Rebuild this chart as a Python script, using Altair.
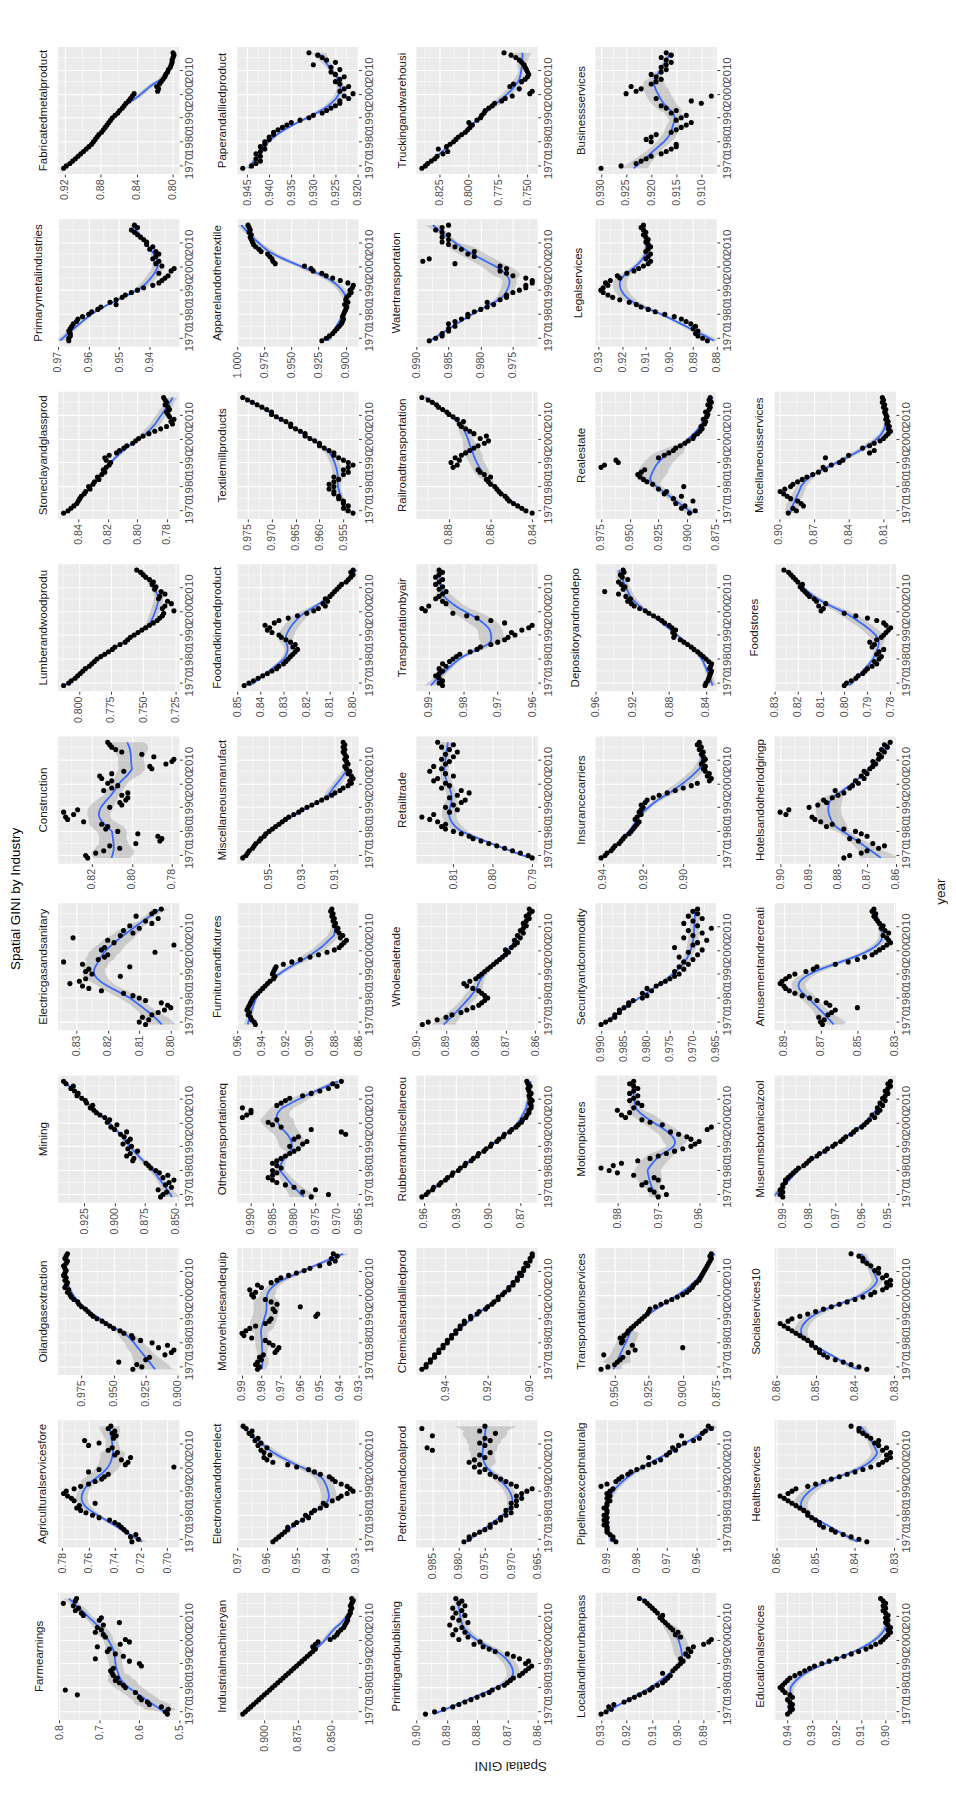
import altair as alt
import pandas as pd

YEARS = list(range(1969, 2018))
YEAR_TICKS = [1970, 1980, 1990, 2000, 2010]

FABRICATED = [0.921, 0.918, 0.914, 0.911, 0.908, 0.905, 0.902, 0.899, 0.896, 0.893,
              0.890, 0.888, 0.886, 0.884, 0.882, 0.879, 0.877, 0.875, 0.873, 0.871,
              0.869, 0.867, 0.864, 0.861, 0.859, 0.856, 0.854, 0.852, 0.849, 0.847,
              0.845, 0.843, 0.817, 0.816, 0.818, 0.815, 0.813, 0.811, 0.809, 0.808,
              0.806, 0.805, 0.803, 0.802, 0.801, 0.801, 0.800, 0.799, 0.800]
PRIMARYMETAL = [0.9665, 0.9665, 0.966, 0.966, 0.9665, 0.966, 0.9655, 0.965, 0.964, 0.9635,
                0.962, 0.960, 0.959, 0.957, 0.956, 0.951, 0.953, 0.951, 0.949, 0.948,
                0.946, 0.944, 0.942, 0.939, 0.937, 0.936, 0.935, 0.934, 0.937, 0.933,
                0.932, 0.936, 0.938, 0.937, 0.939, 0.938, 0.937, 0.938, 0.940, 0.939,
                0.941, 0.941, 0.942, 0.943, 0.944, 0.945, 0.946, 0.944, 0.945]
STONECLAY = [0.850, 0.847, 0.845, 0.843, 0.841, 0.840, 0.839, 0.838, 0.836, 0.835,
             0.832, 0.833, 0.830, 0.829, 0.826, 0.827, 0.824, 0.822, 0.823, 0.821,
             0.819, 0.818, 0.821, 0.822, 0.819, 0.814, 0.812, 0.809, 0.807, 0.803,
             0.801, 0.799, 0.796, 0.792, 0.788, 0.784, 0.780, 0.776, 0.777, 0.775,
             0.778, 0.779, 0.780, 0.778, 0.779, 0.781, 0.780, 0.781, 0.782]
LUMBER = [0.812, 0.808, 0.806, 0.803, 0.801, 0.799, 0.797, 0.795, 0.792, 0.790,
          0.788, 0.786, 0.783, 0.780, 0.777, 0.774, 0.772, 0.768, 0.764, 0.762,
          0.760, 0.757, 0.754, 0.751, 0.748, 0.745, 0.742, 0.739, 0.737, 0.735,
          0.734, 0.726, 0.735, 0.733, 0.728, 0.731, 0.738, 0.737, 0.733, 0.736,
          0.741, 0.740, 0.743, 0.742, 0.745, 0.748, 0.750, 0.752, 0.755]
CONSTRUCTION = [0.822, 0.823, 0.818, 0.814, 0.806, 0.811, 0.798, 0.786, 0.785, 0.787,
                0.797, 0.807, 0.813, 0.812, 0.815, 0.824, 0.832, 0.833, 0.829, 0.834,
                0.827, 0.811, 0.805, 0.806, 0.803, 0.802, 0.805, 0.802, 0.814, 0.810,
                0.807, 0.812, 0.810, 0.815, 0.816, 0.810, 0.804, 0.790, 0.791, 0.783,
                0.780, 0.779, 0.789, 0.795, 0.805, 0.808, 0.810, 0.811, 0.812]
ELECTRICGAS = [0.808, 0.810, 0.807, 0.809, 0.806, 0.804, 0.802, 0.800, 0.801, 0.803,
               0.808, 0.810, 0.812, 0.815, 0.822, 0.826, 0.828, 0.832, 0.829, 0.827,
               0.816, 0.825, 0.827, 0.826, 0.813, 0.828, 0.834, 0.823, 0.821, 0.820,
               0.805, 0.822, 0.821, 0.799, 0.818, 0.820, 0.831, 0.816, 0.812, 0.815,
               0.810, 0.813, 0.806, 0.808, 0.804, 0.811, 0.806, 0.805, 0.803]
MINING = [0.862, 0.860, 0.857, 0.864, 0.853, 0.858, 0.855, 0.851, 0.860, 0.856,
          0.863, 0.866, 0.870, 0.872, 0.874, 0.885, 0.884, 0.890, 0.887, 0.881,
          0.889, 0.886, 0.893, 0.889, 0.887, 0.892, 0.895, 0.890, 0.900, 0.903,
          0.898, 0.906, 0.904, 0.908, 0.912, 0.915, 0.917, 0.920, 0.918, 0.923,
          0.924, 0.927, 0.931, 0.930, 0.933, 0.936, 0.934, 0.940, 0.942]
OILGAS = [0.935, 0.928, 0.932, 0.946, 0.925, 0.922, 0.910, 0.905, 0.903, 0.915,
          0.908, 0.920, 0.929, 0.935, 0.936, 0.942, 0.945, 0.950, 0.953, 0.956,
          0.959, 0.963, 0.966, 0.968, 0.970, 0.972, 0.975, 0.977, 0.978, 0.981,
          0.983, 0.984, 0.986, 0.985, 0.988, 0.987, 0.986, 0.988, 0.987, 0.989,
          0.988, 0.987, 0.988, 0.989, 0.987, 0.986, 0.988, 0.987, 0.986]
AGRICULTURAL = [0.727, 0.722, 0.728, 0.724, 0.731, 0.733, 0.735, 0.737, 0.740, 0.744,
                0.752, 0.757, 0.762, 0.766, 0.769, 0.767, 0.755, 0.771, 0.773, 0.776,
                0.779, 0.777, 0.771, 0.766, 0.760, 0.755, 0.750, 0.748, 0.745, 0.760,
                0.752, 0.695, 0.732, 0.730, 0.735, 0.728, 0.740, 0.738, 0.745, 0.742,
                0.760, 0.752, 0.763, 0.741, 0.739, 0.742, 0.740, 0.745, 0.743]
FARM = [0.530, 0.535, 0.528, 0.545, 0.575, 0.580, 0.595, 0.600, 0.755, 0.610,
        0.785, 0.635, 0.640, 0.650, 0.660, 0.655, 0.665, 0.668, 0.672, 0.665,
        0.595, 0.600, 0.625, 0.710, 0.640, 0.660, 0.680, 0.675, 0.705, 0.648,
        0.625, 0.635, 0.685, 0.690, 0.710, 0.695, 0.705, 0.690, 0.650, 0.700,
        0.695, 0.740, 0.745, 0.760, 0.752, 0.765, 0.790, 0.760, 0.757]
PAPER = [0.946, 0.944, 0.943, 0.942, 0.943, 0.942, 0.943, 0.942, 0.941, 0.942,
         0.941, 0.941, 0.940, 0.940, 0.939, 0.939, 0.938, 0.937, 0.936, 0.935,
         0.933, 0.931, 0.930, 0.928, 0.927, 0.926, 0.925, 0.924, 0.924, 0.922,
         0.923, 0.921, 0.924, 0.923, 0.922, 0.924, 0.925, 0.924, 0.923, 0.925,
         0.926, 0.924, 0.926, 0.930, 0.925, 0.927, 0.928, 0.929, 0.931]
APPAREL = [0.922, 0.918, 0.915, 0.912, 0.910, 0.908, 0.906, 0.904, 0.903, 0.902,
           0.903, 0.902, 0.901, 0.900, 0.899, 0.901, 0.898, 0.900, 0.899, 0.897,
           0.895, 0.896, 0.894, 0.893, 0.898, 0.905, 0.912, 0.918, 0.922, 0.930,
           0.932, 0.938, 0.965, 0.967, 0.968, 0.970, 0.972, 0.978, 0.980, 0.983,
           0.985, 0.986, 0.987, 0.988, 0.987, 0.989, 0.988, 0.989, 0.990]
TEXTILE = [0.953, 0.954, 0.955, 0.954, 0.955, 0.955, 0.956, 0.956, 0.957, 0.957,
           0.958, 0.957, 0.958, 0.957, 0.956, 0.957, 0.955, 0.954, 0.955, 0.954,
           0.953, 0.954, 0.955, 0.956, 0.957, 0.957, 0.958, 0.959, 0.960, 0.960,
           0.961, 0.962, 0.963, 0.963, 0.964, 0.965, 0.966, 0.966, 0.967, 0.968,
           0.969, 0.970, 0.970, 0.971, 0.972, 0.973, 0.974, 0.975, 0.976]
FOOD = [0.847, 0.845, 0.843, 0.841, 0.839, 0.837, 0.835, 0.833, 0.832, 0.830,
        0.829, 0.828, 0.827, 0.826, 0.825, 0.824, 0.826, 0.825, 0.827, 0.829,
        0.831, 0.832, 0.835, 0.837, 0.836, 0.838, 0.834, 0.832, 0.828, 0.824,
        0.820, 0.817, 0.815, 0.812, 0.813, 0.811, 0.812, 0.810, 0.809, 0.808,
        0.807, 0.806, 0.805, 0.803, 0.802, 0.801, 0.800, 0.801, 0.800]
MISCMANUF = [0.966, 0.964, 0.963, 0.962, 0.960, 0.959, 0.958, 0.956, 0.955, 0.953,
             0.952, 0.950, 0.948, 0.946, 0.944, 0.942, 0.940, 0.938, 0.935, 0.932,
             0.930, 0.927, 0.924, 0.921, 0.918, 0.915, 0.912, 0.910, 0.907, 0.905,
             0.902, 0.900, 0.901, 0.899, 0.900, 0.902, 0.901, 0.903, 0.904, 0.902,
             0.903, 0.904, 0.903, 0.904, 0.905, 0.904, 0.905, 0.904, 0.905]
FURNITURE = [0.945, 0.946, 0.948, 0.949, 0.951, 0.950, 0.952, 0.951, 0.950, 0.949,
             0.948, 0.947, 0.945, 0.943, 0.941, 0.939, 0.937, 0.935, 0.933, 0.930,
             0.929, 0.931, 0.930, 0.929, 0.928, 0.922, 0.915, 0.908, 0.900, 0.893,
             0.886, 0.880, 0.876, 0.874, 0.872, 0.870, 0.875, 0.873, 0.876, 0.878,
             0.877, 0.880, 0.879, 0.881, 0.880, 0.882, 0.881, 0.883, 0.882]
OTHERTRANSPORT = [0.976, 0.972, 0.978, 0.975, 0.980, 0.982, 0.984, 0.985, 0.986, 0.985,
                  0.984, 0.985, 0.983, 0.984, 0.985, 0.984, 0.983, 0.982, 0.981, 0.980,
                  0.979, 0.981, 0.978, 0.977, 0.980, 0.979, 0.968, 0.969, 0.976, 0.983,
                  0.985, 0.986, 0.984, 0.992, 0.991, 0.990, 0.990, 0.992, 0.984, 0.983,
                  0.982, 0.981, 0.978, 0.976, 0.974, 0.972, 0.970, 0.971, 0.969]
MOTORVEHICLES = [0.982, 0.981, 0.983, 0.982, 0.980, 0.981, 0.979, 0.973, 0.972, 0.971,
                 0.974, 0.976, 0.978, 0.985, 0.989, 0.990, 0.988, 0.986, 0.983, 0.978,
                 0.976, 0.975, 0.952, 0.951, 0.973, 0.974, 0.960, 0.972, 0.975, 0.978,
                 0.984, 0.985, 0.983, 0.986, 0.980, 0.982, 0.975, 0.972, 0.970, 0.966,
                 0.962, 0.958, 0.955, 0.950, 0.945, 0.942, 0.944, 0.941, 0.943]
ELECTRONIC = [0.958, 0.957, 0.956, 0.955, 0.954, 0.953, 0.953, 0.951, 0.950, 0.948,
              0.946, 0.947, 0.945, 0.944, 0.942, 0.940, 0.941, 0.938, 0.936, 0.935,
              0.933, 0.931, 0.932, 0.933, 0.935, 0.937, 0.938, 0.939, 0.942, 0.944,
              0.946, 0.950, 0.953, 0.958, 0.960, 0.961, 0.959, 0.961, 0.962, 0.960,
              0.963, 0.962, 0.964, 0.963, 0.965, 0.966, 0.965, 0.967, 0.968]
INDMACHINERY = [0.916, 0.914, 0.912, 0.910, 0.908, 0.906, 0.904, 0.902, 0.900, 0.898,
                0.896, 0.894, 0.892, 0.890, 0.888, 0.886, 0.884, 0.882, 0.880, 0.878,
                0.876, 0.874, 0.872, 0.870, 0.868, 0.866, 0.864, 0.862, 0.864, 0.862,
                0.860, 0.851, 0.848, 0.846, 0.845, 0.843, 0.841, 0.840, 0.839, 0.838,
                0.838, 0.837, 0.836, 0.836, 0.835, 0.836, 0.835, 0.834, 0.835]
TRUCKING = [0.840, 0.837, 0.835, 0.832, 0.829, 0.827, 0.822, 0.818, 0.826, 0.819,
            0.816, 0.813, 0.811, 0.809, 0.806, 0.803, 0.801, 0.799, 0.797, 0.800,
            0.793, 0.790, 0.789, 0.787, 0.786, 0.783, 0.780, 0.778, 0.772, 0.769,
            0.763, 0.748, 0.746, 0.757, 0.765, 0.762, 0.755, 0.752, 0.750, 0.749,
            0.750, 0.751, 0.752, 0.753, 0.755, 0.757, 0.760, 0.764, 0.770]
WATER = [0.988, 0.987, 0.986, 0.986, 0.985, 0.985, 0.984, 0.985, 0.984, 0.983,
         0.982, 0.982, 0.981, 0.980, 0.979, 0.978, 0.979, 0.977, 0.976, 0.976,
         0.975, 0.974, 0.973, 0.973, 0.972, 0.972, 0.973, 0.975, 0.976, 0.977,
         0.976, 0.977, 0.984, 0.989, 0.988, 0.981, 0.982, 0.981, 0.983, 0.984,
         0.985, 0.986, 0.985, 0.986, 0.985, 0.986, 0.987, 0.986, 0.985]
RAILROAD = [0.840, 0.843, 0.845, 0.847, 0.849, 0.851, 0.852, 0.853, 0.855, 0.856,
            0.857, 0.858, 0.860, 0.861, 0.862, 0.860, 0.863, 0.865, 0.866, 0.878,
            0.876, 0.879, 0.875, 0.877, 0.874, 0.872, 0.870, 0.868, 0.866, 0.863,
            0.861, 0.865, 0.862, 0.868, 0.870, 0.872, 0.874, 0.875, 0.873, 0.876,
            0.878, 0.880, 0.881, 0.883, 0.885, 0.886, 0.888, 0.890, 0.893]
TRANSAIR = [0.986, 0.987, 0.986, 0.987, 0.988, 0.987, 0.986, 0.987, 0.985, 0.986,
            0.984, 0.983, 0.982, 0.981, 0.978, 0.976, 0.975, 0.972, 0.970, 0.968,
            0.967, 0.965, 0.966, 0.963, 0.961, 0.960, 0.968, 0.972, 0.976, 0.979,
            0.983, 0.991, 0.992, 0.990, 0.985, 0.986, 0.988, 0.987, 0.986, 0.985,
            0.987, 0.986, 0.988, 0.987, 0.986, 0.988, 0.987, 0.986, 0.987]
RETAIL = [0.790, 0.791, 0.793, 0.795, 0.797, 0.799, 0.801, 0.803, 0.805, 0.806,
          0.808, 0.810, 0.812, 0.813, 0.812, 0.814, 0.816, 0.818, 0.815, 0.811,
          0.809, 0.812, 0.810, 0.808, 0.807, 0.811, 0.809, 0.806, 0.808, 0.813,
          0.811, 0.812, 0.815, 0.814, 0.810, 0.812, 0.816, 0.813, 0.815, 0.812,
          0.811, 0.813, 0.810, 0.812, 0.809, 0.811, 0.813, 0.810, 0.814]
WHOLESALE = [0.898, 0.896, 0.893, 0.890, 0.888, 0.885, 0.883, 0.881, 0.879, 0.878,
             0.877, 0.876, 0.877, 0.878, 0.879, 0.881, 0.883, 0.884, 0.882, 0.880,
             0.879, 0.878, 0.877, 0.876, 0.875, 0.874, 0.873, 0.872, 0.871, 0.870,
             0.869, 0.870, 0.868, 0.867, 0.866, 0.867, 0.865, 0.866, 0.864, 0.865,
             0.864, 0.863, 0.864, 0.863, 0.862, 0.863, 0.862, 0.861, 0.862]
RUBBER = [0.962, 0.958, 0.956, 0.952, 0.951, 0.946, 0.944, 0.940, 0.938, 0.934,
          0.933, 0.928, 0.926, 0.922, 0.921, 0.916, 0.914, 0.910, 0.909, 0.904,
          0.902, 0.898, 0.897, 0.892, 0.890, 0.886, 0.885, 0.880, 0.878, 0.874,
          0.872, 0.869, 0.868, 0.865, 0.864, 0.862, 0.862, 0.860, 0.860, 0.861,
          0.859, 0.861, 0.862, 0.860, 0.862, 0.863, 0.861, 0.863, 0.864]
CHEMICALS = [0.951, 0.949, 0.949, 0.947, 0.947, 0.945, 0.945, 0.943, 0.943, 0.941,
             0.941, 0.939, 0.939, 0.937, 0.937, 0.935, 0.935, 0.933, 0.933, 0.931,
             0.931, 0.928, 0.928, 0.925, 0.924, 0.921, 0.920, 0.918, 0.917, 0.915,
             0.915, 0.913, 0.912, 0.910, 0.910, 0.908, 0.908, 0.906, 0.906, 0.904,
             0.905, 0.903, 0.903, 0.901, 0.902, 0.900, 0.900, 0.899, 0.899]
PETROLEUM = [0.979, 0.978, 0.978, 0.977, 0.976, 0.975, 0.974, 0.974, 0.973, 0.972,
             0.972, 0.971, 0.970, 0.971, 0.970, 0.969, 0.970, 0.969, 0.968, 0.969,
             0.968, 0.967, 0.966, 0.969, 0.970, 0.971, 0.972, 0.973, 0.974, 0.976,
             0.975, 0.977, 0.976, 0.978, 0.977, 0.975, 0.976, 0.974, 0.985, 0.986,
             0.975, 0.976, 0.974, 0.975, 0.985, 0.973, 0.976, 0.987, 0.975]
PRINTING = [0.897, 0.894, 0.891, 0.888, 0.886, 0.884, 0.882, 0.880, 0.878, 0.876,
            0.875, 0.873, 0.871, 0.870, 0.869, 0.868, 0.866, 0.865, 0.864, 0.863,
            0.862, 0.864, 0.863, 0.866, 0.868, 0.870, 0.874, 0.876, 0.878, 0.881,
            0.879, 0.886, 0.883, 0.888, 0.884, 0.887, 0.885, 0.889, 0.883, 0.886,
            0.888, 0.884, 0.887, 0.885, 0.888, 0.884, 0.886, 0.885, 0.887]
BUSINESS = [0.930, 0.926, 0.923, 0.922, 0.921, 0.920, 0.918, 0.917, 0.916, 0.915,
            0.915, 0.920, 0.921, 0.920, 0.919, 0.916, 0.915, 0.914, 0.913, 0.912,
            0.915, 0.914, 0.913, 0.916, 0.915, 0.917, 0.918, 0.910, 0.912, 0.919,
            0.908, 0.925, 0.923, 0.922, 0.924, 0.920, 0.919, 0.918, 0.919, 0.920,
            0.918, 0.917, 0.918, 0.917, 0.916, 0.917, 0.918, 0.916, 0.917]
LEGAL = [0.884, 0.886, 0.888, 0.889, 0.888, 0.890, 0.889, 0.891, 0.893, 0.895,
         0.898, 0.902, 0.906, 0.909, 0.912, 0.914, 0.917, 0.921, 0.924, 0.926,
         0.928, 0.929, 0.928, 0.926, 0.927, 0.925, 0.921, 0.922, 0.918, 0.915,
         0.913, 0.911, 0.909, 0.908, 0.910, 0.909, 0.908, 0.910, 0.909, 0.908,
         0.909, 0.910, 0.909, 0.910, 0.911, 0.910, 0.911, 0.912, 0.911]
REALESTATE = [0.898, 0.893, 0.905, 0.902, 0.910, 0.895, 0.912, 0.905, 0.920, 0.918,
              0.925, 0.903, 0.930, 0.935, 0.938, 0.941, 0.943, 0.940, 0.937, 0.975,
              0.972, 0.960, 0.962, 0.925, 0.920, 0.916, 0.912, 0.910, 0.906, 0.902,
              0.899, 0.895, 0.894, 0.891, 0.889, 0.887, 0.888, 0.885, 0.884, 0.886,
              0.883, 0.882, 0.884, 0.881, 0.880, 0.882, 0.879, 0.881, 0.880]
DEPOSITORY = [0.841, 0.840, 0.838, 0.837, 0.836, 0.835, 0.834, 0.836, 0.835, 0.834,
              0.837, 0.840, 0.843, 0.846, 0.849, 0.853, 0.856, 0.860, 0.864, 0.868,
              0.875, 0.874, 0.876, 0.873, 0.877, 0.880, 0.885, 0.888, 0.892, 0.897,
              0.902, 0.906, 0.912, 0.918, 0.921, 0.925, 0.922, 0.927, 0.935, 0.950,
              0.930, 0.928, 0.932, 0.935, 0.925, 0.931, 0.933, 0.929, 0.930]
INSURANCE = [0.941, 0.939, 0.938, 0.936, 0.935, 0.934, 0.932, 0.931, 0.930, 0.929,
             0.927, 0.926, 0.925, 0.924, 0.923, 0.922, 0.924, 0.923, 0.921, 0.922,
             0.921, 0.920, 0.921, 0.919, 0.918, 0.915, 0.912, 0.908, 0.904, 0.900,
             0.896, 0.893, 0.887, 0.886, 0.888, 0.887, 0.889, 0.890, 0.889, 0.891,
             0.890, 0.889, 0.890, 0.891, 0.890, 0.892, 0.891, 0.893, 0.892]
SECURITY = [0.990, 0.989, 0.988, 0.987, 0.987, 0.986, 0.986, 0.985, 0.984, 0.984,
            0.983, 0.981, 0.980, 0.981, 0.979, 0.980, 0.978, 0.977, 0.976, 0.975,
            0.974, 0.973, 0.974, 0.972, 0.973, 0.971, 0.972, 0.970, 0.973, 0.969,
            0.971, 0.968, 0.974, 0.970, 0.969, 0.967, 0.972, 0.970, 0.968, 0.971,
            0.966, 0.969, 0.972, 0.970, 0.968, 0.971, 0.969, 0.970, 0.969]
MOTION = [0.970, 0.968, 0.971, 0.972, 0.969, 0.974, 0.973, 0.970, 0.971, 0.976,
          0.980, 0.982, 0.984, 0.981, 0.979, 0.975, 0.972, 0.970, 0.968, 0.966,
          0.964, 0.962, 0.961, 0.960, 0.962, 0.963, 0.965, 0.967, 0.958, 0.957,
          0.969, 0.972, 0.974, 0.978, 0.979, 0.977, 0.980, 0.976, 0.974, 0.975,
          0.977, 0.976, 0.975, 0.977, 0.976, 0.975, 0.976, 0.977, 0.976]
TRANSSERV = [0.960, 0.955, 0.950, 0.948, 0.946, 0.944, 0.958, 0.940, 0.935, 0.900,
             0.937, 0.945, 0.944, 0.946, 0.943, 0.941, 0.940, 0.938, 0.936, 0.934,
             0.932, 0.930, 0.928, 0.926, 0.925, 0.924, 0.920, 0.916, 0.912, 0.908,
             0.904, 0.900, 0.897, 0.895, 0.893, 0.892, 0.890, 0.888, 0.887, 0.886,
             0.885, 0.884, 0.883, 0.882, 0.881, 0.880, 0.879, 0.880, 0.879]
PIPELINES = [0.987, 0.988, 0.988, 0.989, 0.990, 0.990, 0.990, 0.991, 0.990, 0.991,
             0.990, 0.991, 0.990, 0.990, 0.991, 0.990, 0.990, 0.989, 0.990, 0.989,
             0.990, 0.989, 0.988, 0.992, 0.990, 0.987, 0.986, 0.985, 0.983, 0.982,
             0.980, 0.978, 0.976, 0.974, 0.972, 0.976, 0.970, 0.969, 0.967, 0.968,
             0.966, 0.964, 0.961, 0.959, 0.965, 0.958, 0.957, 0.955, 0.956]
LOCALTRANSIT = [0.930, 0.928, 0.926, 0.927, 0.925, 0.921, 0.919, 0.917, 0.915, 0.913,
                0.911, 0.910, 0.908, 0.906, 0.905, 0.904, 0.903, 0.906, 0.902, 0.901,
                0.900, 0.899, 0.898, 0.899, 0.896, 0.897, 0.895, 0.896, 0.894, 0.890,
                0.888, 0.887, 0.899, 0.901, 0.900, 0.902, 0.903, 0.904, 0.905, 0.906,
                0.907, 0.906, 0.908, 0.909, 0.910, 0.911, 0.912, 0.913, 0.915]
MISCSERV = [0.892, 0.885, 0.888, 0.879, 0.881, 0.884, 0.890, 0.893, 0.896, 0.899,
            0.895, 0.890, 0.888, 0.884, 0.880, 0.876, 0.871, 0.866, 0.860, 0.862,
            0.855, 0.848, 0.845, 0.860, 0.840, 0.822, 0.818, 0.828, 0.822, 0.818,
            0.813, 0.810, 0.808, 0.806, 0.804, 0.806, 0.805, 0.807, 0.806, 0.808,
            0.807, 0.808, 0.809, 0.808, 0.810, 0.809, 0.811, 0.810, 0.811]
FOODSTORES = [0.800, 0.799, 0.797, 0.795, 0.794, 0.792, 0.791, 0.790, 0.788, 0.786,
              0.787, 0.785, 0.784, 0.786, 0.785, 0.783, 0.788, 0.787, 0.789, 0.786,
              0.784, 0.783, 0.782, 0.781, 0.780, 0.782, 0.783, 0.786, 0.790, 0.795,
              0.800, 0.810, 0.809, 0.811, 0.808, 0.812, 0.813, 0.815, 0.816, 0.817,
              0.818, 0.819, 0.818, 0.820, 0.821, 0.822, 0.823, 0.824, 0.826]
HOTELS = [0.878, 0.876, 0.872, 0.870, 0.866, 0.864, 0.868, 0.873, 0.876, 0.870,
          0.872, 0.874, 0.878, 0.884, 0.882, 0.886, 0.888, 0.889, 0.898, 0.900,
          0.897, 0.890, 0.887, 0.884, 0.885, 0.882, 0.880, 0.878, 0.881, 0.876,
          0.875, 0.873, 0.874, 0.871, 0.872, 0.870, 0.871, 0.869, 0.868, 0.867,
          0.868, 0.866, 0.865, 0.866, 0.864, 0.865, 0.863, 0.864, 0.862]
AMUSEMENT = [0.869, 0.870, 0.868, 0.871, 0.866, 0.864, 0.862, 0.850, 0.865, 0.867,
             0.872, 0.876, 0.880, 0.884, 0.887, 0.889, 0.890, 0.892, 0.891, 0.889,
             0.887, 0.884, 0.878, 0.874, 0.872, 0.862, 0.855, 0.850, 0.846, 0.842,
             0.840, 0.838, 0.836, 0.834, 0.832, 0.833, 0.834, 0.836, 0.833, 0.835,
             0.837, 0.836, 0.838, 0.839, 0.840, 0.841, 0.840, 0.842, 0.841]
MUSEUMS = [0.990, 0.991, 0.990, 0.991, 0.990, 0.990, 0.989, 0.989, 0.988, 0.987,
           0.986, 0.985, 0.984, 0.982, 0.981, 0.980, 0.979, 0.977, 0.976, 0.974,
           0.973, 0.971, 0.970, 0.968, 0.967, 0.966, 0.964, 0.963, 0.962, 0.960,
           0.959, 0.958, 0.957, 0.955, 0.956, 0.954, 0.953, 0.954, 0.952, 0.953,
           0.951, 0.952, 0.951, 0.950, 0.951, 0.950, 0.949, 0.950, 0.949]
SOCIAL = [0.837, 0.839, 0.841, 0.843, 0.845, 0.847, 0.848, 0.849, 0.849, 0.850,
          0.851, 0.851, 0.852, 0.853, 0.854, 0.855, 0.856, 0.857, 0.858, 0.859,
          0.857, 0.856, 0.854, 0.852, 0.850, 0.848, 0.846, 0.844, 0.842, 0.840,
          0.838, 0.836, 0.835, 0.833, 0.832, 0.831, 0.832, 0.831, 0.833, 0.832,
          0.834, 0.835, 0.834, 0.836, 0.837, 0.838, 0.838, 0.839, 0.841]
HEALTH = [0.837, 0.839, 0.841, 0.843, 0.845, 0.846, 0.848, 0.849, 0.849, 0.850,
          0.851, 0.852, 0.852, 0.853, 0.854, 0.855, 0.856, 0.857, 0.858, 0.859,
          0.857, 0.856, 0.855, 0.852, 0.850, 0.848, 0.846, 0.844, 0.842, 0.840,
          0.838, 0.836, 0.834, 0.833, 0.832, 0.831, 0.832, 0.831, 0.833, 0.832,
          0.834, 0.835, 0.834, 0.836, 0.837, 0.838, 0.839, 0.839, 0.841]
EDUCATIONAL = [0.940, 0.939, 0.938, 0.939, 0.938, 0.939, 0.940, 0.938, 0.939, 0.941,
               0.942, 0.943, 0.942, 0.941, 0.940, 0.939, 0.937, 0.935, 0.933, 0.931,
               0.929, 0.926, 0.923, 0.920, 0.917, 0.914, 0.911, 0.908, 0.906, 0.904,
               0.902, 0.901, 0.900, 0.899, 0.898, 0.899, 0.898, 0.899, 0.900, 0.899,
               0.900, 0.899, 0.900, 0.901, 0.900, 0.901, 0.900, 0.901, 0.902]

# (strip label, values, tick labels) in reading order of the 5-column grid; None = empty cell
PANELS = [
    ("Fabricatedmetalproduct", FABRICATED, ["0.80", "0.84", "0.88", "0.92"]),
    ("Paperandalliedproduct", PAPER, ["0.920", "0.925", "0.930", "0.935", "0.940", "0.945"]),
    ("Truckingandwarehousi", TRUCKING, ["0.750", "0.775", "0.800", "0.825"]),
    ("Businessservices", BUSINESS, ["0.910", "0.915", "0.920", "0.925", "0.930"]),
    None,
    ("Primarymetalindustries", PRIMARYMETAL, ["0.94", "0.95", "0.96", "0.97"]),
    ("Apparelandothertextile", APPAREL, ["0.900", "0.925", "0.950", "0.975", "1.000"]),
    ("Watertransportation", WATER, ["0.975", "0.980", "0.985", "0.990"]),
    ("Legalservices", LEGAL, ["0.88", "0.89", "0.90", "0.91", "0.92", "0.93"]),
    None,
    ("Stoneclayandglassprod", STONECLAY, ["0.78", "0.80", "0.82", "0.84"]),
    ("Textilemillproducts", TEXTILE, ["0.955", "0.960", "0.965", "0.970", "0.975"]),
    ("Railroadtransportation", RAILROAD, ["0.84", "0.86", "0.88"]),
    ("Realestate", REALESTATE, ["0.875", "0.900", "0.925", "0.950", "0.975"]),
    ("Miscellaneousservices", MISCSERV, ["0.81", "0.84", "0.87", "0.90"]),
    ("Lumberandwoodprodu", LUMBER, ["0.725", "0.750", "0.775", "0.800"]),
    ("Foodandkindredproduct", FOOD, ["0.80", "0.81", "0.82", "0.83", "0.84", "0.85"]),
    ("Transportationbyair", TRANSAIR, ["0.96", "0.97", "0.98", "0.99"]),
    ("Depositoryandnondepo", DEPOSITORY, ["0.84", "0.88", "0.92", "0.96"]),
    ("Foodstores", FOODSTORES, ["0.78", "0.79", "0.80", "0.81", "0.82", "0.83"]),
    ("Construction", CONSTRUCTION, ["0.78", "0.80", "0.82"]),
    ("Miscellaneousmanufact", MISCMANUF, ["0.91", "0.93", "0.95"]),
    ("Retailtrade", RETAIL, ["0.79", "0.80", "0.81"]),
    ("Insurancecarriers", INSURANCE, ["0.90", "0.92", "0.94"]),
    ("Hotelsandotherlodgingp", HOTELS, ["0.86", "0.87", "0.88", "0.89", "0.90"]),
    ("Electricgasandsanitary", ELECTRICGAS, ["0.80", "0.81", "0.82", "0.83"]),
    ("Furnitureandfixtures", FURNITURE, ["0.86", "0.88", "0.90", "0.92", "0.94", "0.96"]),
    ("Wholesaletrade", WHOLESALE, ["0.86", "0.87", "0.88", "0.89", "0.90"]),
    ("Securityandcommodity", SECURITY, ["0.965", "0.970", "0.975", "0.980", "0.985", "0.990"]),
    ("Amusementandrecreati", AMUSEMENT, ["0.83", "0.85", "0.87", "0.89"]),
    ("Mining", MINING, ["0.850", "0.875", "0.900", "0.925"]),
    ("Othertransportationeq", OTHERTRANSPORT, ["0.965", "0.970", "0.975", "0.980", "0.985", "0.990"]),
    ("Rubberandmiscellaneou", RUBBER, ["0.87", "0.90", "0.93", "0.96"]),
    ("Motionpictures", MOTION, ["0.96", "0.97", "0.98"]),
    ("Museumsbotanicalzool", MUSEUMS, ["0.95", "0.96", "0.97", "0.98", "0.99"]),
    ("Oilandgasextraction", OILGAS, ["0.900", "0.925", "0.950", "0.975"]),
    ("Motorvehiclesandequip", MOTORVEHICLES, ["0.93", "0.94", "0.95", "0.96", "0.97", "0.98", "0.99"]),
    ("Chemicalsandalliedprod", CHEMICALS, ["0.90", "0.92", "0.94"]),
    ("Transportationservices", TRANSSERV, ["0.875", "0.900", "0.925", "0.950"]),
    ("Socialservices10", SOCIAL, ["0.83", "0.84", "0.85", "0.86"]),
    ("Agriculturalservicesfore", AGRICULTURAL, ["0.70", "0.72", "0.74", "0.76", "0.78"]),
    ("Electronicandotherelect", ELECTRONIC, ["0.93", "0.94", "0.95", "0.96", "0.97"]),
    ("Petroleumandcoalprod", PETROLEUM, ["0.965", "0.970", "0.975", "0.980", "0.985"]),
    ("Pipelinesexceptnaturalg", PIPELINES, ["0.96", "0.97", "0.98", "0.99"]),
    ("Healthservices", HEALTH, ["0.83", "0.84", "0.85", "0.86"]),
    ("Farmearnings", FARM, ["0.5", "0.6", "0.7", "0.8"]),
    ("Industrialmachineryan", INDMACHINERY, ["0.850", "0.875", "0.900"]),
    ("Printingandpublishing", PRINTING, ["0.86", "0.87", "0.88", "0.89", "0.90"]),
    ("Localandinterurbanpass", LOCALTRANSIT, ["0.89", "0.90", "0.91", "0.92", "0.93"]),
    ("Educationalservices", EDUCATIONAL, ["0.90", "0.91", "0.92", "0.93", "0.94"]),
]

W, H = 126, 132
BG = "#EBEBEB"
FONT = "Liberation Sans"
BW = 0.5        # loess bandwidth
KBAND = 7.0     # band scale factor

ypad = (YEARS[-1] - YEARS[0]) * 0.05
YDOM = [YEARS[0] - ypad, YEARS[-1] + ypad]
ystep = YEAR_TICKS[1] - YEAR_TICKS[0]
YEAR_MINOR = [t + ystep / 2 for t in YEAR_TICKS] + [YEAR_TICKS[0] - ystep / 2]
YEAR_MINOR = [m for m in YEAR_MINOR if YDOM[0] < m < YDOM[1]]


def make_panel(label, vals, tick_labels):
    ticks = [float(t) for t in tick_labels]
    dec = max(len(t.split(".")[1]) for t in tick_labels)
    df = pd.DataFrame({"year": YEARS[:len(vals)], "v": vals})
    lo, hi = min(vals), max(vals)
    r = hi - lo
    dmin = min(lo - 0.05 * r, min(ticks))
    dmax = max(hi + 0.05 * r, max(ticks))
    step = ticks[1] - ticks[0]
    minors = [t + step / 2 for t in ticks] + [ticks[0] - step / 2]
    minors = [m for m in minors if dmin < m < dmax]

    xs = alt.Scale(domain=[dmin, dmax], reverse=True, nice=False, zero=False)
    ys = alt.Scale(domain=YDOM, nice=False, zero=False)
    xa = alt.Axis(values=ticks, format=f".{dec}f", orient="bottom", labelAngle=270,
                  labelAlign="right", labelBaseline="middle", labelOverlap=False,
                  labelFlush=False, grid=True, title=None, labelFontSize=11)
    ya = alt.Axis(values=YEAR_TICKS, format="d", orient="right", labelAngle=270,
                  labelAlign="center", labelBaseline="top", labelOverlap=False,
                  labelFlush=False, grid=True, title=None, labelFontSize=12)

    minor_x = alt.Chart(pd.DataFrame({"m": minors})).mark_rule(
        color="white", strokeWidth=0.55).encode(x=alt.X("m:Q", scale=xs, axis=xa))
    minor_y = alt.Chart(pd.DataFrame({"ym": YEAR_MINOR})).mark_rule(
        color="white", strokeWidth=0.55).encode(y=alt.Y("ym:Q", scale=ys, axis=ya))

    fit = alt.Chart(df).transform_loess("year", "v", bandwidth=BW, as_=["year", "fit"])
    band = (
        fit.transform_calculate(yr="round(datum.year)")
        .transform_lookup(lookup="yr", from_=alt.LookupData(data=df, key="year", fields=["v"]))
        .transform_calculate(r2="pow(datum.v - datum.fit, 2)")
        .transform_window(s2="mean(r2)", c="count()", frame=[-6, 6],
                          sort=[alt.SortField("yr")])
        .transform_calculate(lo=f"datum.fit - {KBAND} * sqrt(datum.s2) / datum.c",
                             hi=f"datum.fit + {KBAND} * sqrt(datum.s2) / datum.c")
        .mark_area(color="#999999", opacity=0.4, orient="horizontal", clip=True)
        .encode(y=alt.Y("year:Q", scale=ys, axis=ya),
                x=alt.X("lo:Q", scale=xs, axis=xa), x2="hi:Q")
    )
    line = fit.mark_line(color="#3366FF", strokeWidth=1.8, clip=True).encode(
        y=alt.Y("year:Q", scale=ys, axis=ya),
        x=alt.X("fit:Q", scale=xs, axis=xa),
        order="year:Q")
    pts = alt.Chart(df).mark_circle(size=28, color="black", opacity=1).encode(
        x=alt.X("v:Q", scale=xs, axis=xa),
        y=alt.Y("year:Q", scale=ys, axis=ya))

    return alt.layer(minor_x, minor_y, band, line, pts).properties(
        width=W, height=H,
        view=alt.ViewBackground(fill=BG, strokeWidth=0),
        title=alt.TitleParams(text=label, orient="left", anchor="middle", fontSize=12,
                              fontWeight="normal", color="#1A1A1A", font=FONT,
                              offset=8, limit=H + 6),
    )


def blank():
    return alt.Chart(pd.DataFrame({"a": [0]})).mark_point(opacity=0).encode(
        x=alt.X("a:Q", axis=None), y=alt.Y("a:Q", axis=None)
    ).properties(width=W, height=H)


cells = [blank() if p is None else make_panel(*p) for p in PANELS]

grid = alt.concat(
    *cells, columns=5, spacing={"row": 13, "column": 16},
    title=alt.TitleParams(text="Spatial GINI by Industry", orient="left", anchor="middle",
                          fontSize=14, fontWeight="normal", color="black", font=FONT,
                          offset=10),
)

year_lbl = alt.Chart(pd.DataFrame({"t": ["year"]})).mark_text(
    angle=270, fontSize=14, color="#1A1A1A", font=FONT
).encode(text="t:N", x=alt.value(7), y=alt.value(877)).properties(width=12, height=1000)

gini_lbl = alt.Chart(pd.DataFrame({"t": ["Spatial GINI"]})).mark_text(
    angle=180, fontSize=14, color="#1A1A1A", font=FONT
).encode(text="t:N", x=alt.value(470), y=alt.value(8)).properties(width=900, height=16)

chart = alt.vconcat(
    alt.hconcat(grid, year_lbl, spacing=24),
    gini_lbl,
    spacing=7,
).properties(
    padding={"left": 0, "top": 5, "right": 0, "bottom": 0}
).configure(font=FONT).configure_view(strokeWidth=0).configure_axis(
    domain=False, gridColor="white", gridWidth=1.1, tickColor="#333333", tickSize=3,
    tickWidth=1, labelColor="#4D4D4D", labelPadding=2, labelFont=FONT
)

chart.save("out.html", embed_options={"renderer": "svg", "actions": False})
